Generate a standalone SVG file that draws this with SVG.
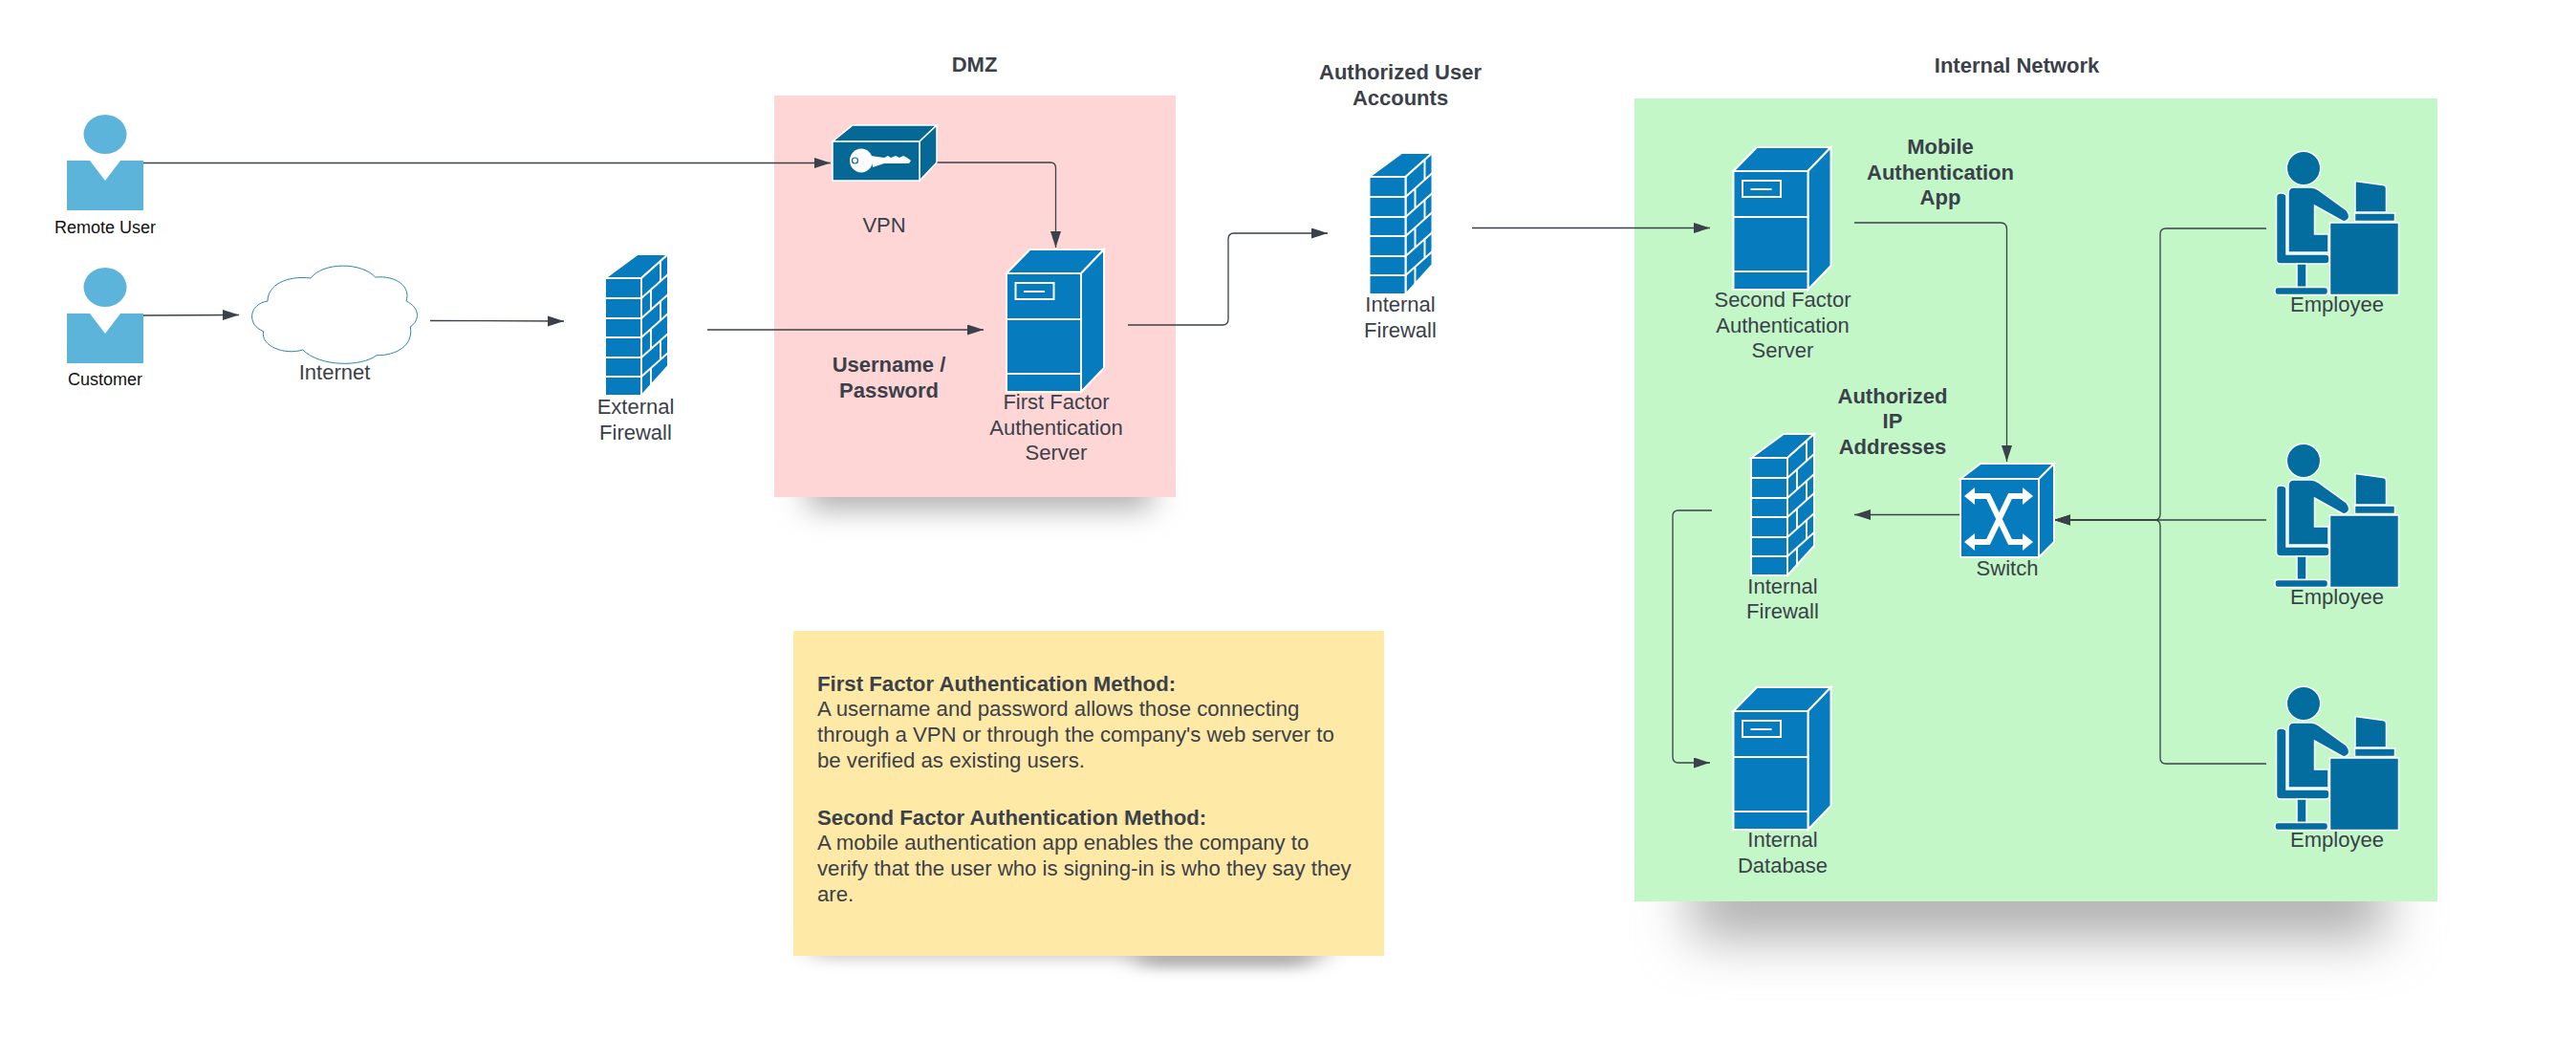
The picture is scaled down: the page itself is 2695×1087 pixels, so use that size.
<svg xmlns="http://www.w3.org/2000/svg" xmlns:xlink="http://www.w3.org/1999/xlink" width="2695" height="1087" viewBox="0 0 2695 1087">
<style>
text{font-family:"Liberation Sans",Arial,sans-serif;font-size:22px;fill:#3a414a}
.c{text-anchor:middle}
.b{font-weight:bold}
.n{font-size:22.2px}
.u{font-size:18px;fill:#111}
.conn{fill:none;stroke:#3a414a;stroke-width:1.3;marker-end:url(#arr)}
.s{fill:#067bbd;stroke:#fff;stroke-width:2;stroke-linejoin:miter}
.w{fill:none;stroke:#fff;stroke-width:2}
.d{fill:#026d9e;stroke:#fff;stroke-width:1.5}
.p{fill:#5cb4da}
</style>
<defs>
<marker id="arr" markerUnits="userSpaceOnUse" markerWidth="18" markerHeight="12" refX="17" refY="5.5" orient="auto"><path d="M0 0L17 5.5L0 11Z" fill="#3a414a"/></marker>
<filter id="bl" x="-20%" y="-200%" width="140%" height="500%"><feGaussianBlur stdDeviation="28 27"/></filter>
<filter id="bm" x="-20%" y="-200%" width="140%" height="500%"><feGaussianBlur stdDeviation="16 14"/></filter>
<filter id="bs" x="-20%" y="-200%" width="140%" height="500%"><feGaussianBlur stdDeviation="14 7"/></filter>
<g id="server">
<path class="s" d="M0 25L24.5 0H102L78 25Z"/>
<path class="s" d="M78 25L102 0V124L78 149Z"/>
<rect class="s" x="0" y="25" width="78" height="124"/>
<rect class="w" x="9.5" y="35" width="40" height="17"/>
<path class="w" d="M18 44H40M0 73H78M0 130H78"/>
</g>
<g id="firewall">
<path class="s" d="M0 25L34 0H66L38 25Z"/>
<path class="s" d="M38 25L66 0V117L38 148Z"/>
<rect class="s" x="0" y="25" width="38" height="123"/>
<path class="w" d="M0 46H38M0 67H38M0 87H38M0 108H38M0 128H38M38 46L66 21M38 67L66 42M38 87L66 62M38 108L66 83M38 128L66 103M58 7V28M58 49V69M58 90V110M48 37V58M48 78V99M48 119V139"/>
</g>
<g id="employee">
<circle class="d" cx="170" cy="36" r="17.7"/>
<path class="d" d="M146 62Q152 62 152 66V126H193Q197 126 197 130V132Q197 136 193 136H146Q141.500 136 141.500 132V66Q141.500 62 146 62Z"/>
<rect class="d" x="163" y="136" width="10" height="24.500"/>
<rect class="d" x="140" y="160.500" width="55.500" height="8" rx="3"/>
<path class="d" d="M160 56H178Q182 56 186 59L215 80Q219 85 217 89Q214 93 210 91L181.500 75V105H196V124H154V62Q154 56 160 56Z"/>
<rect class="d" x="197.500" y="93" width="72" height="75.500"/>
<path class="d" d="M224 49.500L253 53.500Q256.500 54 256.500 57V82H224Z"/>
<rect class="d" x="223.500" y="83" width="42" height="8.500"/>
</g>
<g id="person">
<ellipse class="p" cx="40" cy="20.500" rx="22.500" ry="20.500"/>
<path class="p" d="M0 48H24L40 69L56 48H80V100H0Z"/>
</g>
</defs>
<rect width="2695" height="1087" fill="#fff"/>

<g id="shadows">
<rect x="1770" y="900" width="725" height="82" fill="#b0b0b0" filter="url(#bl)"/>
<rect x="845" y="490" width="360" height="44" fill="#b4b4b4" filter="url(#bm)"/>
<rect x="850" y="970" width="540" height="34" fill="#cfcfcf" filter="url(#bs)"/>
<rect x="1190" y="985" width="180" height="27" fill="#b0b0b0" filter="url(#bs)"/>
</g>
<g id="zone-dmz">
<rect x="810" y="100" width="420" height="420" fill="#ffd6d6"/>
<text class="c b" x="1019.500" y="75">DMZ</text>
</g>
<g id="zone-internal">
<rect x="1710" y="103" width="840" height="840" fill="#c3f7c8"/>
<text class="c b" x="2110" y="76">Internal Network</text>
</g>
<g id="note">
<rect x="830" y="660" width="618" height="340" fill="#ffe9a6"/>
<text class="b n" x="855" y="722.700">First Factor Authentication Method:</text>
<text class="n" x="855" y="749.300">A username and password allows those connecting</text>
<text class="n" x="855" y="776">through a VPN or through the company's web server to</text>
<text class="n" x="855" y="802.700">be verified as existing users.</text>
<text class="b n" x="855" y="862.700">Second Factor Authentication Method:</text>
<text class="n" x="855" y="889.300">A mobile authentication app enables the company to</text>
<text class="n" x="855" y="916">verify that the user who is signing-in is who they say they</text>
<text class="n" x="855" y="942.700">are.</text>
</g>

<g id="connectors">
<path class="conn" d="M150 170.500H869"/>
<path class="conn" d="M150 330L250 329.500"/>
<path class="conn" d="M450 335.500L590 336"/>
<path class="conn" d="M740 345H1029"/>
<path class="conn" d="M980 170H1099Q1104.500 170 1104.500 176V259"/>
<path class="conn" d="M1180 340H1279Q1285 340 1285 334V250Q1285 244 1291 244H1389"/>
<path class="conn" d="M1540 238.500H1789"/>
<path class="conn" d="M1940 233H2093Q2099.500 233 2099.500 240V483"/>
<path class="conn" d="M2051 538.500H1940"/>
<path class="conn" d="M2371 239H2266Q2260 239 2260 245V538Q2260 544 2254 544H2149"/>
<path class="conn" d="M2371 544H2149"/>
<path class="conn" d="M2371 799H2266Q2260 799 2260 793V550Q2260 544 2254 544H2149"/>
<path class="conn" d="M1791 534H1756Q1750 534 1750 540V792Q1750 798 1756 798H1789"/>
</g>

<g id="remote-user">
<use href="#person" x="70" y="120"/>
<text class="c u" x="110" y="243.500">Remote User</text>
</g>
<g id="customer">
<use href="#person" x="70" y="280"/>
<text class="c u" x="110" y="403">Customer</text>
</g>
<g id="internet">
<path d="M325 291C338 274 378 274 392.700 290C415 288 430 300 425 315C440 322 439 336 429.300 341.700C433 362 414 372 394 371.700C378 384 335 384 316.700 366C298 372 272 362 275.700 346.700C258 340 260 318 280 315C280 298 300 288 325 291Z" fill="#fff" stroke="#2a86b5" stroke-width="1"/>
<text class="c" x="350" y="397">Internet</text>
</g>
<g id="external-firewall">
<use href="#firewall" x="633" y="266"/>
<text class="c" x="665" y="433">External</text>
<text class="c" x="665" y="460">Firewall</text>
</g>
<g id="vpn">
<path d="M871 148L892 131H980L962 148Z" fill="#056895" stroke="#fff" stroke-width="1.500"/>
<path d="M962 148L980 131V170L962 189Z" fill="#056895" stroke="#fff" stroke-width="1.500"/>
<rect x="871" y="148" width="91" height="41" fill="#056895" stroke="#fff" stroke-width="1.500"/>
<ellipse cx="901" cy="168" rx="12" ry="12.500" fill="#fff"/>
<circle cx="894.500" cy="168" r="3" fill="none" stroke="#056895" stroke-width="1.200"/>
<path d="M911 163L925 165L929 163L932 165L937 163L941 165L945 163L949 165L953 168L951 171L925 171L913 175Z" fill="#fff"/>
<text class="c" x="925" y="243">VPN</text>
</g>
<g id="first-factor-server">
<use href="#server" x="1053" y="261"/>
<text class="c" x="1105" y="428">First Factor</text>
<text class="c" x="1105" y="455">Authentication</text>
<text class="c" x="1105" y="481">Server</text>
</g>
<g id="username-password">
<text class="c b" x="930" y="389">Username /</text>
<text class="c b" x="930" y="416">Password</text>
</g>
<g id="authorized-user-accounts">
<text class="c b" x="1465" y="83">Authorized User</text>
<text class="c b" x="1465" y="110">Accounts</text>
</g>
<g id="internal-firewall-outer">
<use href="#firewall" x="1432.500" y="160"/>
<text class="c" x="1465" y="326">Internal</text>
<text class="c" x="1465" y="353">Firewall</text>
</g>
<g id="second-factor-server">
<use href="#server" x="1813.500" y="154"/>
<text class="c" x="1865" y="321">Second Factor</text>
<text class="c" x="1865" y="348">Authentication</text>
<text class="c" x="1865" y="374">Server</text>
</g>
<g id="mobile-app-label">
<text class="c b" x="2030" y="161">Mobile</text>
<text class="c b" x="2030" y="188">Authentication</text>
<text class="c b" x="2030" y="214">App</text>
</g>
<g id="authorized-ip-label">
<text class="c b" x="1980" y="422">Authorized</text>
<text class="c b" x="1980" y="448">IP</text>
<text class="c b" x="1980" y="475">Addresses</text>
</g>
<g id="internal-firewall-inner">
<use href="#firewall" x="1832" y="454"/>
<text class="c" x="1865" y="621">Internal</text>
<text class="c" x="1865" y="647">Firewall</text>
</g>
<g id="internal-database">
<use href="#server" x="1813.500" y="719"/>
<text class="c" x="1865" y="886">Internal</text>
<text class="c" x="1865" y="913">Database</text>
</g>
<g id="switch">
<path class="s" d="M2051 501L2072 485H2149L2133 501Z"/>
<path class="s" d="M2133 501L2149 485V567L2133 583Z"/>
<rect class="s" x="2051" y="501" width="82" height="82"/>
<path d="M2063 519H2080L2103 567H2118M2119 519H2103L2080 567H2063" fill="none" stroke="#fff" stroke-width="6"/>
<path d="M2055 519L2066 510V528ZM2127 519L2116 510V528ZM2055 567L2066 558V576ZM2127 567L2116 558V576Z" fill="#fff"/>
<text class="c" x="2100" y="602">Switch</text>
</g>
<g id="employee-1">
<use href="#employee" x="2240" y="140"/>
<text class="c" x="2445" y="325.500">Employee</text>
</g>
<g id="employee-2">
<use href="#employee" x="2240" y="446"/>
<text class="c" x="2445" y="632">Employee</text>
</g>
<g id="employee-3">
<use href="#employee" x="2240" y="700"/>
<text class="c" x="2445" y="885.500">Employee</text>
</g>
</svg>
